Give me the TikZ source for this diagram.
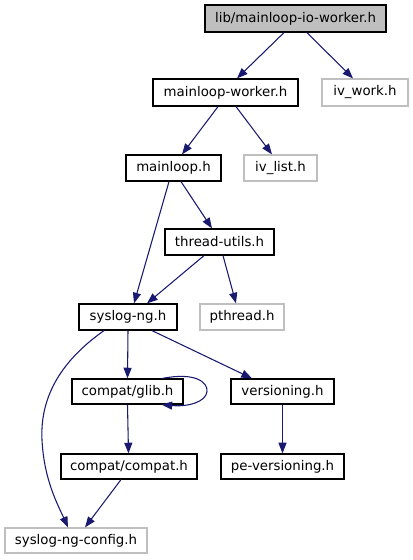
\documentclass[tikz,border=0pt]{standalone}
\usepackage{fontspec}
\setmainfont{DejaVu Sans}
\usetikzlibrary{arrows.meta,calc}
\definecolor{edgeblue}{HTML}{191970}
\definecolor{extgray}{HTML}{BFBFBF}
\tikzset{
  box/.style={draw=black,line width=0.9pt,inner sep=0pt,font=\fontsize{10}{12}\selectfont,text=black},
  extbox/.style={box,draw=extgray},
  rootbox/.style={box,fill=extgray},
  dep/.style={draw=edgeblue,line width=0.8pt,-{Triangle[length=8pt,width=6pt,fill=edgeblue]}},
}
\newcommand{\bx}[6]{\node[#1,minimum width=#4*0.75pt,minimum height=#5*0.75pt] (#2) at (#3) {#6};}
\begin{document}
\begin{tikzpicture}[x=0.75pt,y=-0.75pt]
\useasboundingbox (0,0) rectangle (413,560);
\bx{rootbox}{top}{295.5,18.5}{181}{27}{lib/mainloop-io-worker.h}
\bx{box}{mlw}{225.5,92.5}{145}{27}{mainloop-worker.h}
\bx{extbox}{ivwork}{365,92.5}{86}{27}{iv\_work.h}
\bx{box}{ml}{173.5,168}{95}{26}{mainloop.h}
\bx{extbox}{ivlist}{280.5,168}{73}{26}{iv\_list.h}
\bx{box}{tu}{219.5,242}{109}{26}{thread-utils.h}
\bx{box}{sng}{128,317}{98}{26}{syslog-ng.h}
\bx{extbox}{pth}{242,317}{84}{26}{pthread.h}
\bx{box}{glib}{127.5,391.5}{111}{25}{compat/glib.h}
\bx{box}{ver}{282.5,391.5}{103}{25}{versioning.h}
\bx{box}{compat}{129,466.5}{136}{25}{compat/compat.h}
\bx{box}{pever}{282.5,466.5}{123}{25}{pe-versioning.h}
\bx{extbox}{cfg}{76,540.5}{142}{25}{syslog-ng-config.h}

\draw[dep] ($(top.south)+(-11.5,0)$) -- ($(mlw.north)+(11.5,0)$);
\draw[dep] ($(top.south)+(11.5,0)$) -- ($(ivwork.north)+(-12,0)$);
\draw[dep] ($(mlw.south)+(-7.5,0)$) -- ($(ml.north)+(8.5,0)$);
\draw[dep] ($(mlw.south)+(10.5,0)$) -- ($(ivlist.north)+(-8.5,0)$);
\draw[dep] ($(ml.south)+(-4.5,0)$) -- ($(sng.north)+(6,0)$);
\draw[dep] ($(ml.south)+(7.5,0)$) -- ($(tu.north)+(-7.5,0)$);
\draw[dep] ($(tu.south)+(-15.5,0)$) -- ($(sng.north)+(19,0)$);
\draw[dep] ($(tu.south)+(3.5,0)$) -- ($(pth.north)+(-6,0)$);
\draw[dep] (sng.south) -- (glib.north);
\draw[dep] ($(sng.south)+(24,0)$) -- ($(ver.north)+(-30.5,0)$);
\draw[dep] ($(sng.south)+(-24,0)$) .. controls (58,363) and (40,400) .. (42,440)
   .. controls (44,480) and (58,505) .. ($(cfg.north)+(-8,0)$);
\draw[dep] ($(glib.north)+(35,0)$) .. controls (195,372) and (208,382) .. (207,391.5)
   .. controls (206,402) and (188,407) .. ($(glib.south)+(34,0)$);
\draw[dep] (glib.south) -- ($(compat.north)+(-0.5,0)$);
\draw[dep] (ver.south) -- (pever.north);
\draw[dep] ($(compat.south)+(-8,0)$) -- ($(cfg.north)+(9,0)$);
\end{tikzpicture}
\end{document}
